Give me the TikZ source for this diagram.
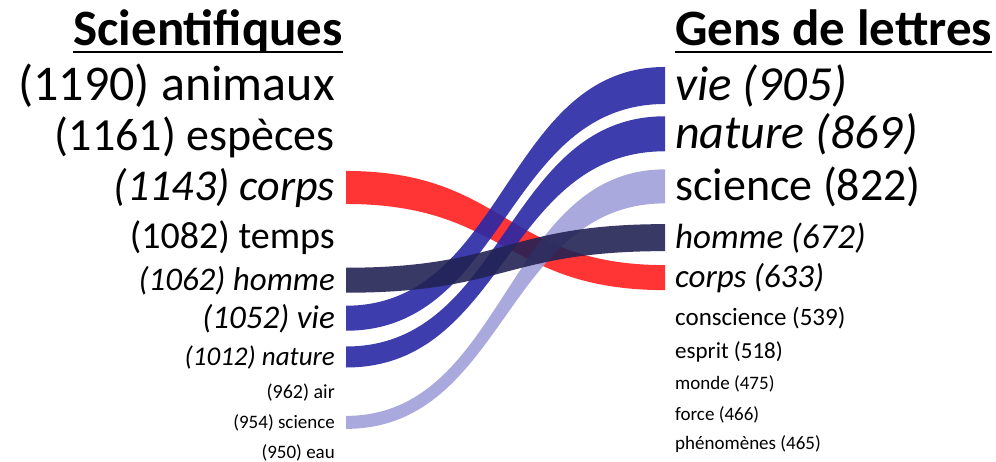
\documentclass[tikz,border=0pt]{standalone}
\usepackage{fontspec}
\setmainfont{Carlito}
\usetikzlibrary{calc}

\definecolor{flowred}{RGB}{255,30,30}
\definecolor{flowblue}{RGB}{40,40,165}
\definecolor{flownavy}{RGB}{35,35,85}
\definecolor{flowlav}{RGB}{160,160,218}

\newcommand\fsz[1]{\fontsize{#1}{#1}\selectfont}
% band from a left label to a right label: #3/#4 half widths, #5 colour
\newcommand\flow[5]{%
  \coordinate (fa) at ($(#1.east)+(11,0)$);
  \coordinate (fb) at ($(#2.west)+(-10,0)$);
  \coordinate (fm) at ($(fa)!.5!(fb)$);
  \fill[#5, opacity=.9] ($(fa)+(0,-#3)$) .. controls ($(fm |- fa)+(0,-#3)$) and ($(fm |- fb)+(0,-#4)$) .. ($(fb)+(0,-#4)$)
    -- ($(fb)+(0,#4)$) .. controls ($(fm |- fb)+(0,#4)$) and ($(fm |- fa)+(0,#3)$) .. ($(fa)+(0,#3)$) -- cycle;
}

\begin{document}
\begin{tikzpicture}[x=1pt, y=-1pt, inner sep=0pt,
    sci/.style={anchor=base east},
    lit/.style={anchor=base west},
    title/.style={font=\fsz{51}\bfseries}]
    \useasboundingbox (0,0) rectangle (996,461);

    % Titles
    \node [title, anchor=base east] (tsci) at (343,45) {Scientifiques};
    \node [title, anchor=base west] (tlet) at (675,45) {Gens de lettres};
    \draw [line width=2.2] ([yshift=-7]tsci.base west) -- ([yshift=-7]tsci.base east);
    \draw [line width=2.2] ([yshift=-7]tlet.base west) -- ([yshift=-7]tlet.base east);

    % Scientifiques
    \node [sci, font=\fsz{50}] (lanimaux) at (335,100) {(1190) animaux};
    \node [sci, font=\fsz{46}] (lespeces) at (335,150) {(1161) espèces};
    \node [sci, font=\fsz{44}\itshape] (lcorps) at (335,200) {(1143) corps};
    \node [sci, font=\fsz{38}] (ltemps) at (335,248) {(1082) temps};
    \node [sci, font=\fsz{33}\itshape] (lhomme) at (335,290) {(1062) homme};
    \node [sci, font=\fsz{33}\itshape] (lvie) at (335,328) {(1052) vie};
    \node [sci, font=\fsz{27}\itshape] (lnature) at (335,365) {(1012) nature};
    \node [sci, font=\fsz{20}] (lair) at (335,398) {(962) air};
    \node [sci, font=\fsz{19}] (lscience) at (335,428) {(954) science};
    \node [sci, font=\fsz{19}] (leau) at (335,458) {(950) eau};

    % Gens de lettres
    \node [lit, font=\fsz{49}\itshape] (rvie) at (675,100) {vie (905)};
    \node [lit, font=\fsz{48}\itshape] (rnature) at (675,148) {nature (869)};
    \node [lit, font=\fsz{46}] (rscience) at (675,200) {science (822)};
    \node [lit, font=\fsz{35}\itshape] (rhomme) at (675,248) {homme (672)};
    \node [lit, font=\fsz{33}\itshape] (rcorps) at (675,287) {corps (633)};
    \node [lit, font=\fsz{25}] (rconscience) at (675,325) {conscience (539)};
    \node [lit, font=\fsz{23}] (resprit) at (675,358) {esprit (518)};
    \node [lit, font=\fsz{19}] (rmonde) at (675,389) {monde (475)};
    \node [lit, font=\fsz{19}] (rforce) at (675,420) {force (466)};
    \node [lit, font=\fsz{19}] (rphenomenes) at (675,449) {phénomènes (465)};

    % Bands
    \flow{lcorps}{rcorps}{16.5}{12.5}{flowred}
    \flow{lscience}{rscience}{6.5}{17}{flowlav}
    \flow{lnature}{rnature}{10.5}{17.5}{flowblue}
    \flow{lvie}{rvie}{12.5}{18.5}{flowblue}
    \flow{lhomme}{rhomme}{12.5}{13.5}{flownavy}
\end{tikzpicture}
\end{document}
